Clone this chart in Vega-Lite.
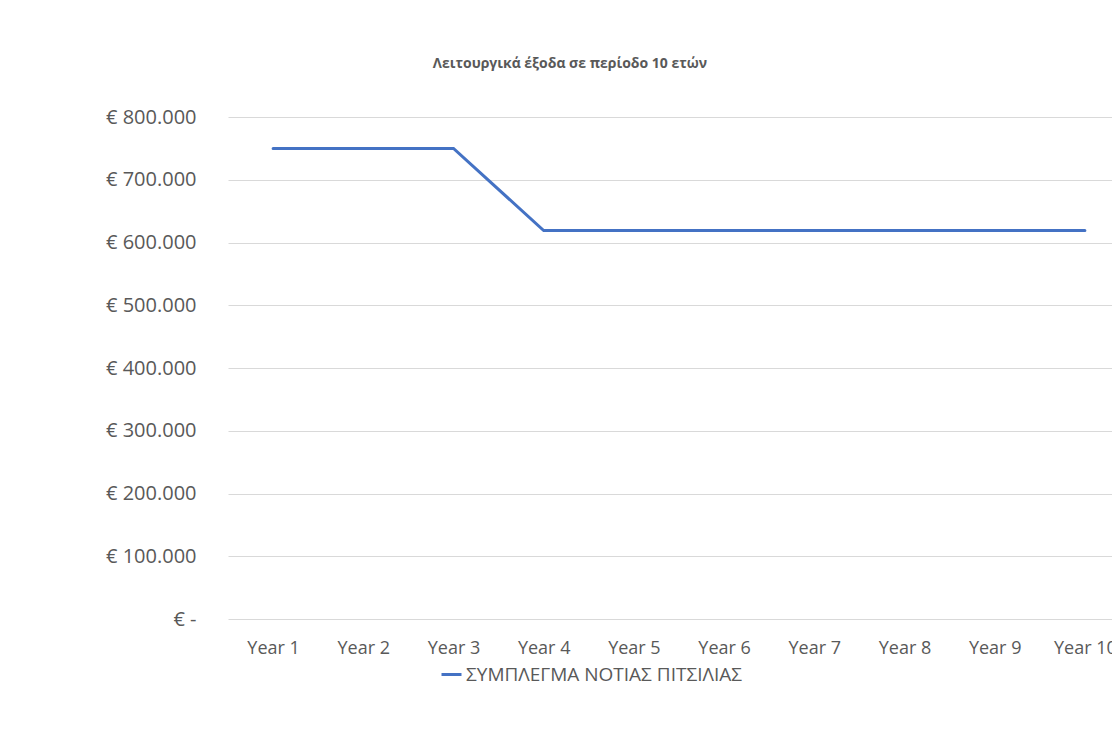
{
  "$schema": "https://vega.github.io/schema/vega-lite/v6.json",
  "width": 902,
  "height": 502,
  "autosize": {"type": "none"},
  "padding": {"left": 228, "top": 117, "right": -18, "bottom": 123},
  "background": "white",
  "title": {
    "text": "Λειτουργικά έξοδα σε περίοδο 10 ετών",
    "fontSize": 14,
    "fontWeight": "bold",
    "font": "Open Sans",
    "color": "#595959",
    "anchor": "middle",
    "dx": -109,
    "offset": 36
  },
  "data": {
    "values": [
      {"year": "Year 1", "value": 750000, "series": "ΣΥΜΠΛΕΓΜΑ ΝΟΤΙΑΣ ΠΙΤΣΙΛΙΑΣ"},
      {"year": "Year 2", "value": 750000, "series": "ΣΥΜΠΛΕΓΜΑ ΝΟΤΙΑΣ ΠΙΤΣΙΛΙΑΣ"},
      {"year": "Year 3", "value": 750000, "series": "ΣΥΜΠΛΕΓΜΑ ΝΟΤΙΑΣ ΠΙΤΣΙΛΙΑΣ"},
      {"year": "Year 4", "value": 619000, "series": "ΣΥΜΠΛΕΓΜΑ ΝΟΤΙΑΣ ΠΙΤΣΙΛΙΑΣ"},
      {"year": "Year 5", "value": 619000, "series": "ΣΥΜΠΛΕΓΜΑ ΝΟΤΙΑΣ ΠΙΤΣΙΛΙΑΣ"},
      {"year": "Year 6", "value": 619000, "series": "ΣΥΜΠΛΕΓΜΑ ΝΟΤΙΑΣ ΠΙΤΣΙΛΙΑΣ"},
      {"year": "Year 7", "value": 619000, "series": "ΣΥΜΠΛΕΓΜΑ ΝΟΤΙΑΣ ΠΙΤΣΙΛΙΑΣ"},
      {"year": "Year 8", "value": 619000, "series": "ΣΥΜΠΛΕΓΜΑ ΝΟΤΙΑΣ ΠΙΤΣΙΛΙΑΣ"},
      {"year": "Year 9", "value": 619000, "series": "ΣΥΜΠΛΕΓΜΑ ΝΟΤΙΑΣ ΠΙΤΣΙΛΙΑΣ"},
      {"year": "Year 10", "value": 619000, "series": "ΣΥΜΠΛΕΓΜΑ ΝΟΤΙΑΣ ΠΙΤΣΙΛΙΑΣ"}
    ]
  },
  "mark": {"type": "line", "strokeWidth": 3, "strokeCap": "round"},
  "encoding": {
    "x": {
      "field": "year",
      "type": "ordinal",
      "sort": null,
      "scale": {"type": "point", "padding": 0.5},
      "axis": {
        "title": null,
        "labelAngle": 0,
        "ticks": false,
        "domain": false,
        "grid": false,
        "labelPadding": 20,
        "labelFontSize": 18,
        "labelFont": "Open Sans",
        "labelColor": "#595959"
      }
    },
    "y": {
      "field": "value",
      "type": "quantitative",
      "scale": {"domain": [0, 800000]},
      "axis": {
        "title": null,
        "values": [0, 100000, 200000, 300000, 400000, 500000, 600000, 700000, 800000],
        "labelExpr": "datum.value === 0 ? '€ -' : '€ ' + format(datum.value, ',.0f')",
        "ticks": false,
        "domain": false,
        "grid": true,
        "gridColor": "#d9d9d9",
        "gridWidth": 1,
        "labelPadding": 32,
        "labelFontSize": 20,
        "labelFont": "Open Sans",
        "labelColor": "#595959"
      }
    },
    "color": {
      "field": "series",
      "type": "nominal",
      "scale": {"range": ["#4472C4"]},
      "legend": {
        "title": null,
        "orient": "none",
        "legendX": 212,
        "legendY": 546,
        "direction": "horizontal",
        "symbolType": "stroke",
        "symbolSize": 400,
        "symbolStrokeWidth": 3,
        "symbolOffset": 0,
        "labelOffset": 3,
        "labelLimit": 0,
        "labelFontSize": 19,
        "labelFont": "Open Sans",
        "labelColor": "#595959"
      }
    }
  },
  "config": {
    "view": {"stroke": null},
    "locale": {
      "number": {"decimal": ",", "thousands": ".", "grouping": [3], "currency": ["€ ", ""]}
    }
  }
}
